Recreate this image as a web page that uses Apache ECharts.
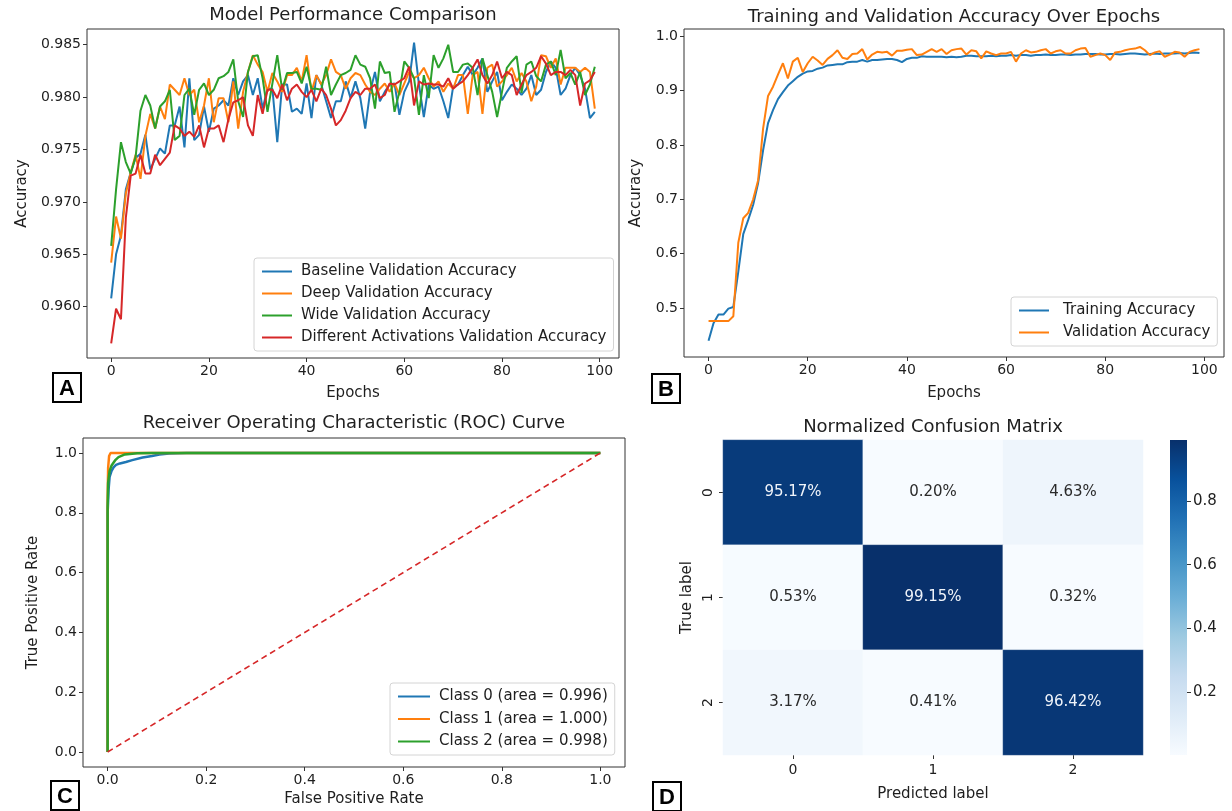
<!DOCTYPE html>
<html>
<head>
<meta charset="utf-8">
<script src="https://cdn.jsdelivr.net/npm/echarts@6/dist/echarts.min.js"></script>
<style>
html,body{margin:0;padding:0;background:#fff;}
#c{width:1232px;height:811px;}
</style>
</head>
<body>
<div id="c"></div>
<script>
// ---------------- DATA ----------------
// Panel A: validation accuracy per epoch (0..99)
const baselineAcc = [0.9608,0.9650,0.9668,0.9712,0.9728,0.9742,0.9746,0.9764,0.9731,0.9741,
 0.9751,0.9746,0.9773,0.9773,0.9791,0.9752,0.9818,0.9759,0.9764,0.9791,
 0.9767,0.9789,0.9792,0.9797,0.9792,0.9818,0.9802,0.9815,0.9821,0.9802,
 0.9818,0.9789,0.9808,0.9808,0.9757,0.9812,0.9812,0.9786,0.9789,0.9784,
 0.9813,0.9780,0.9821,0.9812,0.9796,0.9780,0.9796,0.9796,0.9815,0.9799,
 0.9815,0.9799,0.9770,0.9805,0.9824,0.9796,0.9805,0.9812,0.9813,0.9783,
 0.9805,0.9815,0.9852,0.9812,0.9781,0.9812,0.9808,0.9810,0.9796,0.9780,
 0.9810,0.9812,0.9821,0.9829,0.9821,0.9828,0.9837,0.9805,0.9815,0.9824,
 0.9797,0.9805,0.9812,0.9808,0.9802,0.9808,0.9821,0.9802,0.9807,0.9824,
 0.9834,0.9828,0.9802,0.9808,0.9821,0.9828,0.9821,0.9808,0.9780,0.9786];
const deepAcc = [0.9642,0.9686,0.9665,0.9708,0.9728,0.9745,0.9722,0.9763,0.9784,0.9770,
 0.9791,0.9779,0.9812,0.9807,0.9802,0.9818,0.9802,0.9807,0.9776,0.9792,
 0.9818,0.9776,0.9799,0.9799,0.9776,0.9815,0.9770,0.9805,0.9824,0.9840,
 0.9831,0.9824,0.9805,0.9823,0.9815,0.9805,0.9821,0.9821,0.9828,0.9815,
 0.9840,0.9805,0.9821,0.9812,0.9821,0.9836,0.9824,0.9821,0.9808,0.9818,
 0.9823,0.9821,0.9812,0.9805,0.9802,0.9808,0.9813,0.9805,0.9813,0.9802,
 0.9813,0.9824,0.9818,0.9821,0.9828,0.9818,0.9810,0.9815,0.9805,0.9813,
 0.9808,0.9821,0.9821,0.9784,0.9821,0.9824,0.9784,0.9828,0.9831,0.9810,
 0.9815,0.9821,0.9828,0.9815,0.9823,0.9815,0.9796,0.9810,0.9840,0.9839,
 0.9828,0.9837,0.9812,0.9828,0.9828,0.9828,0.9824,0.9828,0.9824,0.9789];
const wideAcc = [0.9658,0.9712,0.9757,0.9738,0.9727,0.9743,0.9787,0.9802,0.9792,0.9770,
 0.9791,0.9796,0.9807,0.9759,0.9763,0.9802,0.9808,0.9783,0.9807,0.9813,
 0.9802,0.9807,0.9818,0.9820,0.9824,0.9836,0.9796,0.9781,0.9824,0.9839,
 0.9840,0.9818,0.9786,0.9813,0.9840,0.9807,0.9823,0.9823,0.9824,0.9813,
 0.9829,0.9808,0.9808,0.9807,0.9829,0.9802,0.9812,0.9821,0.9823,0.9826,
 0.9840,0.9831,0.9829,0.9818,0.9789,0.9834,0.9823,0.9824,0.9786,0.9805,
 0.9834,0.9828,0.9818,0.9783,0.9821,0.9799,0.9840,0.9828,0.9837,0.9850,
 0.9824,0.9824,0.9831,0.9832,0.9828,0.9802,0.9837,0.9821,0.9805,0.9781,
 0.9805,0.9828,0.9834,0.9839,0.9804,0.9831,0.9834,0.9820,0.9815,0.9831,
 0.9834,0.9821,0.9845,0.9818,0.9823,0.9812,0.9824,0.9802,0.9812,0.9829];
const activAcc = [0.9565,0.9598,0.9588,0.9685,0.9725,0.9727,0.9745,0.9727,0.9727,0.9745,
 0.9735,0.9741,0.9747,0.9773,0.9770,0.9763,0.9767,0.9762,0.9773,0.9752,
 0.9770,0.9770,0.9773,0.9757,0.9779,0.9795,0.9797,0.9800,0.9773,0.9763,
 0.9802,0.9784,0.9807,0.9807,0.9799,0.9812,0.9797,0.9808,0.9812,0.9805,
 0.9800,0.9807,0.9796,0.9808,0.9802,0.9789,0.9773,0.9778,0.9787,0.9799,
 0.9805,0.9802,0.9808,0.9808,0.9812,0.9799,0.9802,0.9813,0.9812,0.9815,
 0.9818,0.9829,0.9792,0.9815,0.9812,0.9813,0.9812,0.9812,0.9810,0.9818,
 0.9808,0.9812,0.9815,0.9821,0.9828,0.9836,0.9821,0.9813,0.9821,0.9834,
 0.9818,0.9824,0.9821,0.9802,0.9812,0.9821,0.9824,0.9828,0.9839,0.9832,
 0.9821,0.9824,0.9824,0.9821,0.9826,0.9821,0.9792,0.9813,0.9816,0.9824];
const modelNames = ['Baseline Validation Accuracy','Deep Validation Accuracy','Wide Validation Accuracy','Different Activations Validation Accuracy'];

// Panel B: training / validation accuracy per epoch
const trainAcc = [0.440,0.472,0.488,0.488,0.499,0.502,0.567,0.636,0.662,0.690,
 0.730,0.790,0.840,0.864,0.884,0.897,0.909,0.917,0.925,0.931,
 0.935,0.936,0.940,0.942,0.946,0.947,0.948,0.948,0.952,0.953,
 0.953,0.956,0.953,0.956,0.956,0.957,0.958,0.958,0.956,0.952,
 0.958,0.960,0.960,0.963,0.962,0.962,0.962,0.962,0.961,0.962,
 0.961,0.962,0.964,0.964,0.963,0.963,0.963,0.964,0.963,0.964,
 0.964,0.965,0.964,0.965,0.965,0.964,0.965,0.965,0.966,0.965,
 0.965,0.966,0.966,0.965,0.966,0.966,0.967,0.967,0.967,0.966,
 0.966,0.967,0.967,0.966,0.967,0.968,0.968,0.967,0.966,0.967,
 0.968,0.967,0.968,0.968,0.968,0.969,0.968,0.969,0.970,0.969];
const valAcc = [0.476,0.476,0.476,0.476,0.476,0.485,0.620,0.665,0.675,0.700,
 0.735,0.830,0.890,0.907,0.929,0.950,0.922,0.953,0.960,0.934,
 0.950,0.962,0.955,0.947,0.958,0.965,0.974,0.960,0.958,0.967,
 0.968,0.976,0.957,0.966,0.971,0.970,0.971,0.964,0.973,0.973,
 0.975,0.976,0.965,0.966,0.971,0.976,0.971,0.976,0.967,0.974,
 0.976,0.977,0.966,0.974,0.972,0.959,0.972,0.968,0.965,0.968,
 0.968,0.971,0.953,0.968,0.974,0.970,0.971,0.974,0.976,0.968,
 0.972,0.974,0.968,0.968,0.974,0.977,0.978,0.962,0.965,0.968,
 0.965,0.956,0.970,0.971,0.974,0.976,0.977,0.980,0.974,0.965,
 0.970,0.972,0.962,0.966,0.971,0.970,0.962,0.971,0.974,0.976];

// Panel C: ROC curves (false positive rate, true positive rate)
const rocFpr0 = [0, 0, 0.002, 0.004, 0.008, 0.012, 0.017, 0.025, 0.037, 0.05, 0.071, 0.09, 0.105, 0.125, 0.16, 1.0];
const rocTpr0 = [0, 0.80, 0.88, 0.92, 0.94, 0.952, 0.96, 0.965, 0.97, 0.976, 0.985, 0.99, 0.995, 0.998, 1.0, 1.0];
const rocFpr1 = [0, 0, 0.001, 0.003, 0.006, 1.0];
const rocTpr1 = [0, 0.85, 0.95, 0.99, 1.0, 1.0];
const rocFpr2 = [0, 0, 0.001, 0.004, 0.008, 0.015, 0.022, 0.035, 0.06, 0.09, 1.0];
const rocTpr2 = [0, 0.82, 0.90, 0.94, 0.958, 0.975, 0.986, 0.995, 0.999, 1.0, 1.0];
const rocAuc = [0.996, 1.000, 0.998];
const chanceLine = [[0, 0], [1, 1]];

// Panel D: normalized confusion matrix (rows = true, cols = predicted)
const cmClasses = ['0', '1', '2'];
const cmValues = [
  [0.9517, 0.0020, 0.0463],
  [0.0053, 0.9915, 0.0032],
  [0.0317, 0.0041, 0.9642]
];

// Tick labels
const epochTicks = [0, 20, 40, 60, 80, 100];
const accTicksA = [0.960, 0.965, 0.970, 0.975, 0.980, 0.985];
const accTicksB = [0.5, 0.6, 0.7, 0.8, 0.9, 1.0];
const rateTicks = [0, 0.2, 0.4, 0.6, 0.8, 1.0];
const cbarTicks = [0.2, 0.4, 0.6, 0.8];

// ---------------- STYLE ----------------
const FONT = '"DejaVu Sans", sans-serif';
const TXT = '#1e1e1e';
const AX = '#333';
const C10 = ['#1f77b4', '#ff7f0e', '#2ca02c', '#d62728'];
const BLUES = ['#f7fbff','#deebf7','#c6dbef','#9ecae1','#6baed6','#4292c6','#2171b5','#08519c','#08306b'];

function valAxis(o) {
  return Object.assign({
    type: 'value',
    splitLine: { show: false },
    axisLine: { show: false, onZero: false },
    axisTick: { show: true, inside: false, length: 4, lineStyle: { color: AX, width: 1 }, customValues: o.ticks },
    axisLabel: { color: TXT, fontSize: 14, fontFamily: FONT, margin: 6, customValues: o.ticks, formatter: o.fmt },
    nameLocation: 'middle',
    nameTextStyle: { color: TXT, fontSize: 15, fontFamily: FONT }
  }, o.extra);
}

const flat = cmValues.flat();
const cmMin = Math.min(...flat);
const cmMax = Math.max(...flat);

const heatData = [];
cmValues.forEach((row, r) => row.forEach((v, c) => {
  heatData.push({ value: [c, r, v], label: { color: v > 0.5 ? '#f0f4fa' : '#2a2a2a' } });
}));

const frame = { show: true, borderColor: AX, borderWidth: 1, backgroundColor: 'transparent' };

const lineSeries = (name, vals, color, xi) => ({
  name, type: 'line', xAxisIndex: xi, yAxisIndex: xi,
  data: vals.map((v, i) => [i, v]),
  symbol: 'none', showSymbol: false,
  lineStyle: { color, width: 2 }, itemStyle: { color },
  clip: true, z: 3
});

const rocSeries = (k, fpr, tpr) => ({
  name: 'Class ' + k + ' (area = ' + rocAuc[k].toFixed(3) + ')',
  type: 'line', xAxisIndex: 2, yAxisIndex: 2,
  data: fpr.map((f, i) => [f, tpr[i]]),
  symbol: 'none', lineStyle: { color: C10[k], width: 2.5 }, itemStyle: { color: C10[k] }, z: 3
});

const legendBase = {
  orient: 'vertical', icon: 'rect', itemWidth: 30, itemHeight: 2, itemGap: 5,
  textStyle: { color: TXT, fontSize: 15, fontFamily: FONT, lineHeight: 17, padding: [0, 0, 0, 4] },
  backgroundColor: 'rgba(255,255,255,0.8)', borderColor: '#d4d4d4', borderWidth: 1, borderRadius: 3,
  padding: [5, 7, 5, 8], selectedMode: false
};

function letterBox(letter, x, y) {
  return {
    type: 'group', left: x, top: y, z: 100,
    children: [
      { type: 'rect', shape: { x: 0, y: 0, width: 28, height: 29 }, style: { fill: '#fff', stroke: '#000', lineWidth: 2 } },
      { type: 'text', style: { text: letter, x: 14, y: 15.5, align: 'center', verticalAlign: 'middle', font: 'bold 22px "Liberation Sans", sans-serif', fill: '#000' } }
    ]
  };
}

const titleStyle = { color: TXT, fontSize: 18, fontWeight: 'normal', fontFamily: FONT };

const option = {
  animation: false,
  backgroundColor: '#fff',
  textStyle: { fontFamily: FONT },
  title: [
    { text: 'Model Performance Comparison', left: 353, top: 6, textAlign: 'center', padding: 0, textStyle: titleStyle },
    { text: 'Training and Validation Accuracy Over Epochs', left: 954, top: 8, textAlign: 'center', padding: 0, textStyle: titleStyle },
    { text: 'Receiver Operating Characteristic (ROC) Curve', left: 354, top: 414, textAlign: 'center', padding: 0, textStyle: titleStyle },
    { text: 'Normalized Confusion Matrix', left: 933, top: 418, textAlign: 'center', padding: 0, textStyle: titleStyle }
  ],
  grid: [
    Object.assign({ left: 87, top: 29, width: 532, height: 329 }, frame),
    Object.assign({ left: 684, top: 29, width: 540, height: 328 }, frame),
    Object.assign({ left: 83, top: 438, width: 542, height: 329 }, frame),
    { left: 723, top: 440, width: 420, height: 315, show: false },
    { left: 1170, top: 440, width: 17, height: 315, show: false }
  ],
  xAxis: [
    valAxis({ ticks: epochTicks, fmt: v => String(v), extra: { gridIndex: 0, min: -4.95, max: 103.95, name: 'Epochs', nameGap: 28 } }),
    valAxis({ ticks: epochTicks, fmt: v => String(v), extra: { gridIndex: 1, min: -4.95, max: 103.95, name: 'Epochs', nameGap: 29 } }),
    valAxis({ ticks: rateTicks, fmt: v => v.toFixed(1), extra: { gridIndex: 2, min: -0.05, max: 1.05, name: 'False Positive Rate', nameGap: 25 } }),
    {
      type: 'category', gridIndex: 3, data: cmClasses, position: 'bottom',
      axisLine: { show: false },
      axisTick: { show: true, alignWithLabel: true, length: 4, lineStyle: { color: AX } },
      axisLabel: { color: TXT, fontSize: 14, fontFamily: FONT, margin: 8 },
      splitLine: { show: false }, splitArea: { show: false },
      name: 'Predicted label', nameLocation: 'middle', nameGap: 32,
      nameTextStyle: { color: TXT, fontSize: 15, fontFamily: FONT }
    },
    { type: 'category', gridIndex: 4, data: [''], show: false }
  ],
  yAxis: [
    valAxis({ ticks: accTicksA, fmt: v => v.toFixed(3), extra: { gridIndex: 0, min: 0.9551, max: 0.9865, name: 'Accuracy', nameGap: 57 } }),
    valAxis({ ticks: accTicksB, fmt: v => v.toFixed(1), extra: { gridIndex: 1, min: 0.41, max: 1.013, name: 'Accuracy', nameGap: 40 } }),
    valAxis({ ticks: rateTicks, fmt: v => v.toFixed(1), extra: { gridIndex: 2, min: -0.05, max: 1.05, name: 'True Positive Rate', nameGap: 42 } }),
    {
      type: 'category', gridIndex: 3, data: cmClasses, inverse: true,
      axisLine: { show: false },
      axisTick: { show: true, alignWithLabel: true, length: 4, lineStyle: { color: AX } },
      axisLabel: { color: TXT, fontSize: 14, fontFamily: FONT, margin: 8, rotate: 90 },
      splitLine: { show: false }, splitArea: { show: false },
      name: 'True label', nameLocation: 'middle', nameGap: 28,
      nameTextStyle: { color: TXT, fontSize: 15, fontFamily: FONT }
    },
    {
      type: 'value', gridIndex: 4, position: 'right', min: cmMin, max: cmMax,
      splitLine: { show: false }, axisLine: { show: false, onZero: false },
      axisTick: { show: true, length: 4, lineStyle: { color: AX }, customValues: cbarTicks },
      axisLabel: { color: TXT, fontSize: 15, fontFamily: FONT, margin: 6, customValues: cbarTicks, formatter: v => v.toFixed(1) }
    }
  ],
  legend: [
    Object.assign({}, legendBase, { left: 254, top: 258, data: modelNames }),
    Object.assign({}, legendBase, { left: 1011, top: 297, textStyle: Object.assign({}, legendBase.textStyle, { padding: [0, 0, 0, 9] }), data: ['Training Accuracy', 'Validation Accuracy'] }),
    Object.assign({}, legendBase, { left: 390, top: 683, itemGap: 5.5, itemWidth: 32, data: rocAuc.map((a, k) => 'Class ' + k + ' (area = ' + a.toFixed(3) + ')') })
  ],
  visualMap: [{
    type: 'continuous', show: false, seriesIndex: 10, min: cmMin, max: cmMax,
    inRange: { color: BLUES }
  }],
  series: [
    lineSeries(modelNames[0], baselineAcc, C10[0], 0),
    lineSeries(modelNames[1], deepAcc, C10[1], 0),
    lineSeries(modelNames[2], wideAcc, C10[2], 0),
    lineSeries(modelNames[3], activAcc, C10[3], 0),
    lineSeries('Training Accuracy', trainAcc, C10[0], 1),
    lineSeries('Validation Accuracy', valAcc, C10[1], 1),
    rocSeries(0, rocFpr0, rocTpr0),
    rocSeries(1, rocFpr1, rocTpr1),
    rocSeries(2, rocFpr2, rocTpr2),
    {
      name: 'chance', type: 'line', xAxisIndex: 2, yAxisIndex: 2, data: chanceLine,
      symbol: 'none', lineStyle: { color: C10[3], width: 1.6, type: [6, 4] }, z: 4
    },
    {
      name: 'cm', type: 'heatmap', xAxisIndex: 3, yAxisIndex: 3, data: heatData,
      label: { show: true, fontSize: 15, fontFamily: FONT, formatter: p => (p.value[2] * 100).toFixed(2) + '%' },
      itemStyle: { borderColor: 'rgba(255,255,255,0.35)', borderWidth: 0.5 },
      emphasis: { disabled: true }
    },
    {
      name: 'cbar', type: 'bar', xAxisIndex: 4, yAxisIndex: 4, data: [cmMax], barWidth: '100%',
      itemStyle: {
        color: new echarts.graphic.LinearGradient(0, 1, 0, 0, BLUES.map((c, i) => ({ offset: i / (BLUES.length - 1), color: c })))
      },
      emphasis: { disabled: true }
    }
  ],
  graphic: [
    letterBox('A', 52, 372),
    letterBox('B', 651, 373),
    letterBox('C', 50, 780),
    letterBox('D', 652, 781)
  ]
};

const chart = echarts.init(document.getElementById('c'), null, { renderer: 'canvas' });
chart.setOption(option);
</script>
</body>
</html>
